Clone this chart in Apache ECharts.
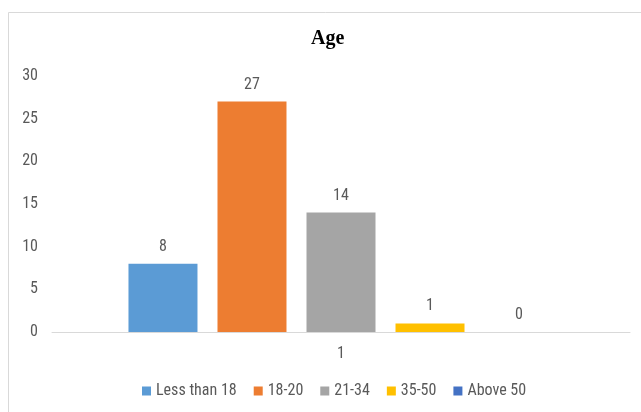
<!DOCTYPE html>
<html>
<head>
<meta charset="utf-8">
<script src="https://cdn.jsdelivr.net/npm/echarts@6/dist/echarts.min.js"></script>
<style>
html,body{margin:0;padding:0;background:#fff;}
#c{width:641px;height:412px;}
</style>
</head>
<body>
<div id="c"></div>
<script>
var categories = ['1'];
var seriesNames = ['Less than 18', '18-20', '21-34', '35-50', 'Above 50'];
var seriesValues = [[8], [27], [14], [1], [0]];
var seriesColors = ['#5B9BD5', '#ED7D31', '#A5A5A5', '#FFC000', '#4472C4'];
var yTicks = { min: 0, max: 30, interval: 5 };

var FONT = "'Liberation Sans Narrow', 'Roboto Condensed', 'Liberation Sans', sans-serif";
var TXT = '#595959';

var chart = echarts.init(document.getElementById('c'), null, { renderer: 'canvas' });
var series = seriesNames.map(function (name, i) {
  return {
    name: name,
    type: 'bar',
    data: seriesValues[i],
    barWidth: 69,
    barGap: '29%',
    itemStyle: { color: seriesColors[i] },
    label: {
      show: true,
      position: 'top',
      distance: 9,
      color: TXT,
      fontFamily: FONT,
      fontSize: 16
    }
  };
});

chart.setOption({
  animation: false,
  backgroundColor: '#ffffff',
  graphic: [{
    type: 'rect',
    shape: { x: 8.5, y: 12.5, width: 700, height: 500 },
    style: { fill: 'none', stroke: '#D9D9D9', lineWidth: 1 },
    silent: true,
    z: -1
  }],
  title: {
    text: 'Age',
    left: 311,
    top: 29,
    padding: 0,
    textStyle: {
      fontFamily: "'Liberation Serif', 'DejaVu Serif', serif",
      fontWeight: 'bold',
      fontSize: 20,
      color: '#000000'
    }
  },
  legend: {
    data: seriesNames,
    left: 142,
    top: 383,
    padding: 0,
    icon: 'rect',
    itemWidth: 9,
    itemHeight: 9,
    itemGap: 17,
    textStyle: { color: TXT, fontFamily: FONT, fontSize: 16 }
  },
  grid: { left: 52, right: 11, top: 76, bottom: 80, containLabel: false },
  xAxis: {
    type: 'category',
    data: categories,
    axisLine: { show: true, lineStyle: { color: '#D9D9D9', width: 1 } },
    axisTick: { show: false },
    axisLabel: { color: TXT, fontFamily: FONT, fontSize: 16, margin: 14 },
    splitLine: { show: false }
  },
  yAxis: {
    type: 'value',
    min: yTicks.min,
    max: yTicks.max,
    interval: yTicks.interval,
    axisLine: { show: false },
    axisTick: { show: false },
    splitLine: { show: false },
    axisLabel: { color: TXT, fontFamily: FONT, fontSize: 16, margin: 14 }
  },
  series: series
});
</script>
</body>
</html>
